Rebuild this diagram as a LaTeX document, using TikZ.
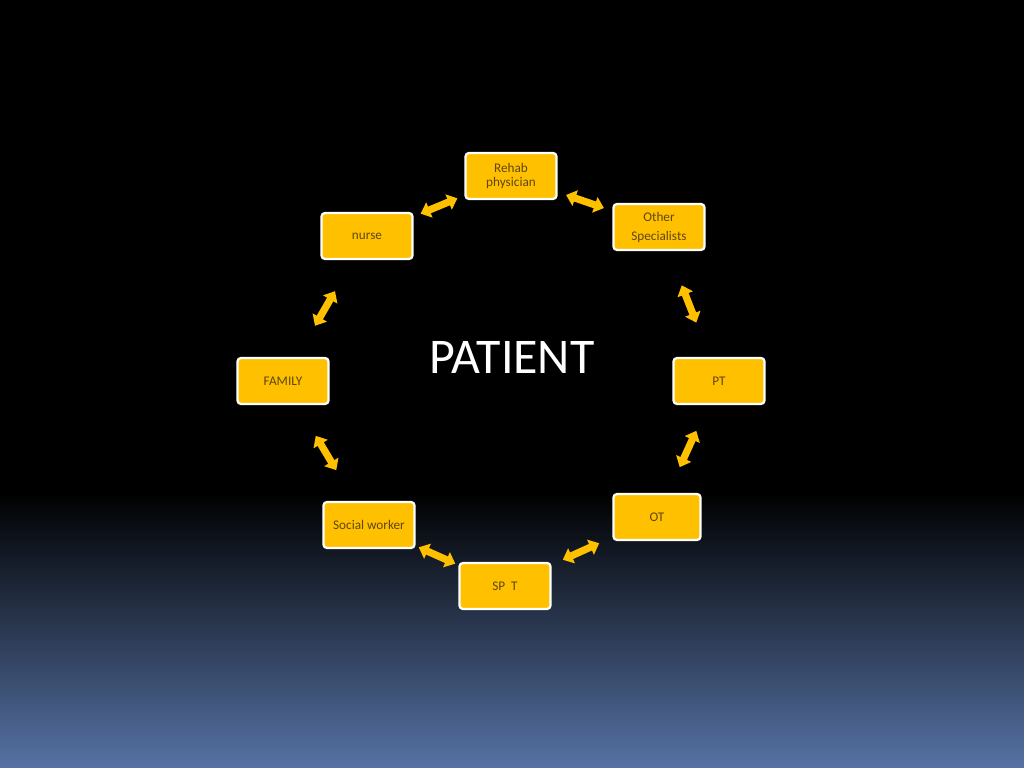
\documentclass[tikz,border=0pt]{standalone}
\usepackage{fontspec}
\setmainfont{Carlito}
\usetikzlibrary{arrows.meta,calc}
\definecolor{gold}{RGB}{255,192,0}
\definecolor{goldtext}{RGB}{95,70,15}
\definecolor{slate}{RGB}{86,114,164}
\begin{document}
\begin{tikzpicture}[x=0.025cm,y=0.025cm]
        \tikzstyle{block} = [rectangle, rounded corners=2.5pt, text=goldtext, align=center, draw=white, line width=1.6pt, fill=gold, font=\fontsize{9.4}{10.5}\selectfont, minimum width=2.275cm, minimum height=1.15cm, inner sep=1pt]
        \tikzstyle{line} = [{Triangle[width=0.4cm,length=0.24cm]}-{Triangle[width=0.4cm,length=0.24cm]},draw=gold,line width=0.18cm]
        % background
        \fill[black] (0,0) rectangle (1024,768);
        \shade[top color=black,bottom color=slate] (0,0) rectangle (1024,275);
        \node[text=white,font=\fontsize{35.5}{38}\selectfont] (patient) at (512,411) {PATIENT};
        \node[block] (rehab) at (511,592) {Rehab\\[-1pt]physician};
        \node[block] (other) at (659,541) {Other\\[3pt]Specialists};
        \node[block] (nurse) at (367,532) {nurse};
        \node[block] (family) at (283,387) {FAMILY};
        \node[block] (pt) at (719,387) {PT};
        \node[block,minimum width=2.175cm] (ot) at (657,251) {OT};
        \node[block] (social) at (369,243) {Social worker};
        \node[block] (spt) at (505,182) {SP\ \ T};
        \foreach \a/\b in {nurse/rehab,rehab/other,other/pt,pt/ot,ot/spt,spt/social,social/family,family/nurse}
            \draw[line] ($(\a)!.5!(\b)!.5cm!(\a)$) to ($(\a)!.5!(\b)!.5cm!(\b)$);
    \end{tikzpicture}
\end{document}
